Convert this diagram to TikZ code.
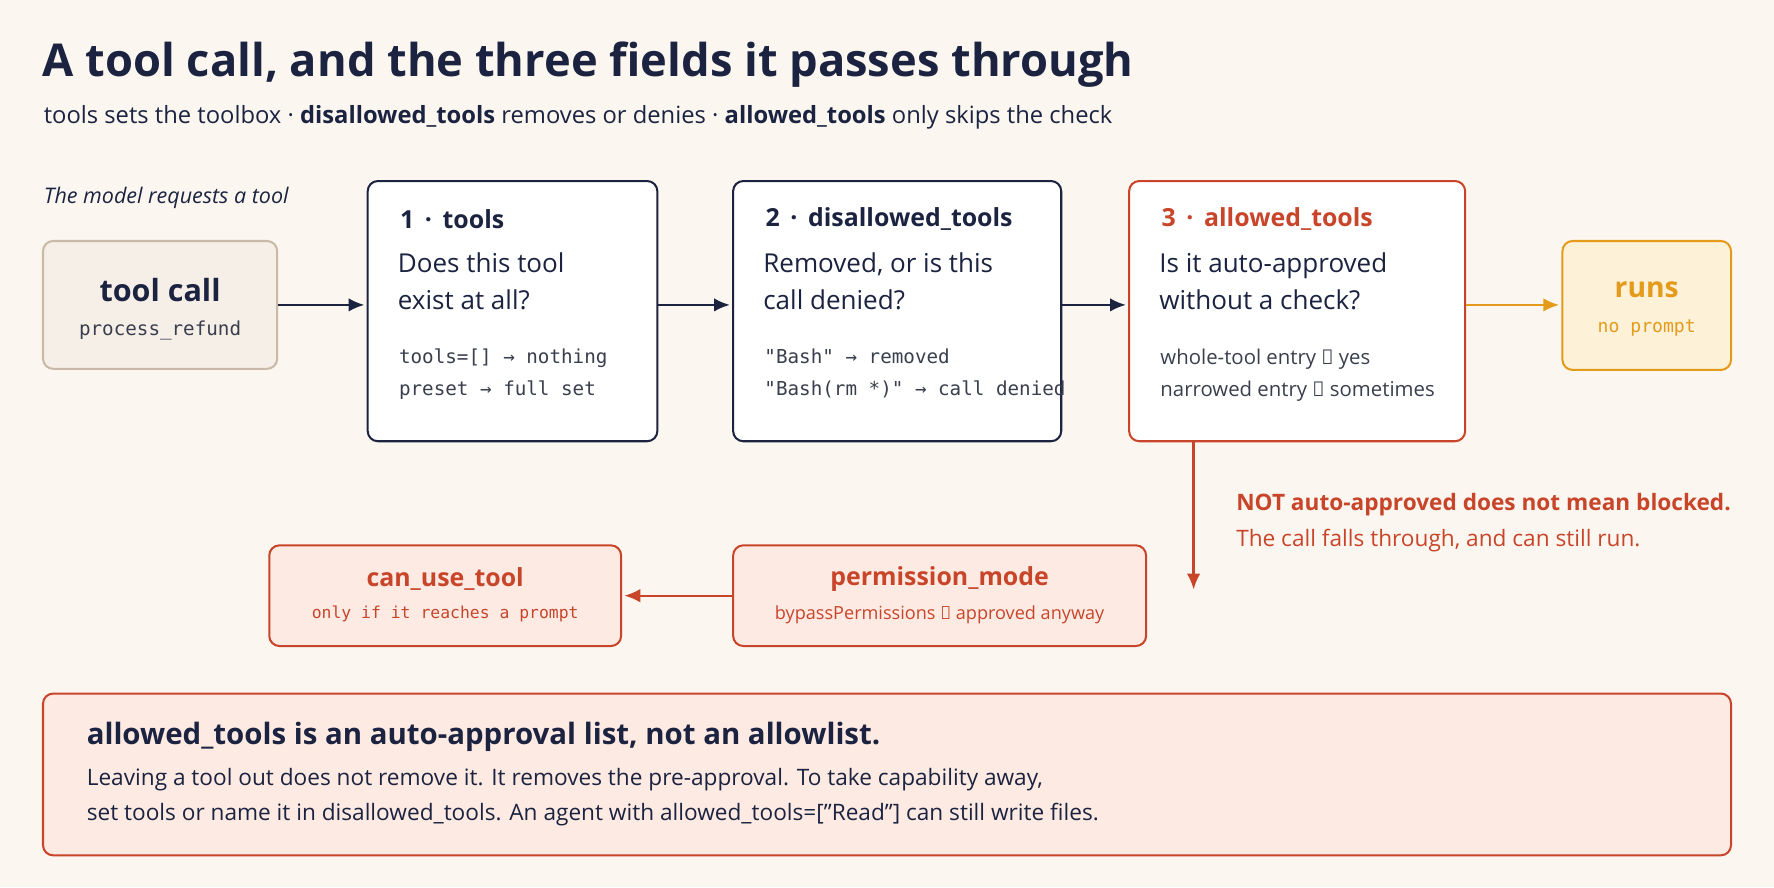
\documentclass[tikz,border=0pt]{standalone}
\usepackage{fontspec}
\setmainfont{Open Sans}
\setmonofont{DejaVu Sans Mono}
\usetikzlibrary{positioning,arrows.meta}
\definecolor{navy}{HTML}{1B2340}
\definecolor{bgpaper}{HTML}{FBF7F0}
\definecolor{redline}{HTML}{C8452A}
\definecolor{redfill}{HTML}{FDEAE3}
\definecolor{tanfill}{HTML}{F5EFE8}
\definecolor{tanline}{HTML}{C9B9A6}
\definecolor{gold}{HTML}{E49B1C}
\definecolor{goldfill}{HTML}{FDF1D8}
\definecolor{bodygray}{HTML}{3A3F4E}
\tikzset{every picture/.style={line width=0.75pt}}
\tikzset{
  box/.style={draw=navy,line width=1.8pt,rounded corners=9pt,fill=white,inner sep=0pt},
  redbox/.style={draw=redline,line width=1.8pt,rounded corners=9pt,fill=redfill,inner sep=0pt},
  flow/.style={-{Latex[length=14pt,width=12pt]},line width=2pt,draw=navy,shorten >=2pt},
  redflow/.style={-{Latex[length=14pt,width=12pt]},line width=2pt,draw=redline,shorten >=2pt},
}

\begin{document}
\begin{tikzpicture}[x=1pt,y=1pt,yscale=-1]
	\fill[bgpaper] (0,0) rectangle (1568,784);
	\useasboundingbox (0,0) rectangle (1568,784);

	% Title
	\node[anchor=west,font=\bfseries\fontsize{40}{44}\selectfont,text=navy] (title) at (34,57) {A tool call, and the three fields it passes through};
	\node[anchor=west,font=\fontsize{21}{24}\selectfont,text=navy] (subtitle) at (35,104) {tools sets the toolbox · \textbf{disallowed\_tools} removes or denies · \textbf{allowed\_tools} only skips the check};
	\node[anchor=west,font=\itshape\fontsize{19}{22}\selectfont,text=navy] (req) at (35,175) {The model requests a tool};

	% Boxes
	\node[box,draw=tanline,fill=tanfill,minimum width=207pt,minimum height=113pt] (call) at (141.5,269.5) {};
	\node[font=\bfseries\fontsize{27}{30}\selectfont,text=navy] at (141.5,256) {tool call};
	\node[font=\ttfamily\fontsize{17}{20}\selectfont,text=bodygray] at (141.5,292) {process\_refund};

	\node[box,minimum width=256pt,minimum height=230pt] (tools) at (453,275) {};
	\node[anchor=west,font=\bfseries\fontsize{22}{26}\selectfont,text=navy] at (350,194) {1 \,·\, tools};
	\node[anchor=north west,align=left,font=\fontsize{23}{32}\selectfont,text=navy] at (348,220) {Does this tool\\exist at all?};
	\node[anchor=north west,align=left,font=\ttfamily\fontsize{17}{28}\selectfont,text=bodygray] at (349,305) {tools=[] → nothing\\preset → full set};

	\node[box,minimum width=290pt,minimum height=230pt] (disallowed) at (793,275) {};
	\node[anchor=west,font=\bfseries\fontsize{22}{26}\selectfont,text=navy] at (673,194) {2 \,·\, disallowed\_tools};
	\node[anchor=north west,align=left,font=\fontsize{23}{32}\selectfont,text=navy] at (671,220) {Removed, or is this\\call denied?};
	\node[anchor=north west,align=left,font=\ttfamily\fontsize{17}{28}\selectfont,text=bodygray] at (672,305) {\char34 Bash\char34\ → removed\\\char34 Bash(rm *)\char34\ → call denied};

	\node[box,draw=redline,minimum width=297pt,minimum height=230pt] (allowed) at (1146.5,275) {};
	\node[anchor=west,font=\bfseries\fontsize{22}{26}\selectfont,text=redline] at (1023,194) {3 \,·\, allowed\_tools};
	\node[anchor=north west,align=left,font=\fontsize{23}{32}\selectfont,text=navy] at (1021,220) {Is it auto-approved\\without a check?};
	\node[anchor=north west,align=left,font=\fontsize{18}{28}\selectfont,text=bodygray] at (1022,305) {whole-tool entry → yes\\narrowed entry → sometimes};

	\node[box,draw=gold,fill=goldfill,minimum width=149pt,minimum height=114pt] (runs) at (1455.5,270) {};
	\node[font=\bfseries\fontsize{25}{28}\selectfont,text=gold] at (1455.5,256) {runs};
	\node[font=\ttfamily\fontsize{16}{18}\selectfont,text=gold] at (1455.5,290) {no prompt};

	% Arrows
	\draw[flow] (call.east) -- (call.east -| tools.west);
	\draw[flow] (tools.east |- call.east) -- (disallowed.west |- call.east);
	\draw[flow] (disallowed.east |- call.east) -- (allowed.west |- call.east);
	\draw[flow,draw=gold] (allowed.east |- call.east) -- (runs.west |- call.east);
	\coordinate (fall) at (1055,521);
	\draw[redflow,shorten >=0pt] (allowed.south -| fall) -- (fall);

	% Note
	\node[anchor=west,font=\bfseries\fontsize{20}{22}\selectfont,text=redline] at (1089,446) {NOT auto-approved does not mean blocked.};
	\node[anchor=west,font=\fontsize{20}{22}\selectfont,text=redline] at (1089,478) {The call falls through, and can still run.};

	% Lower row
	\node[redbox,minimum width=365pt,minimum height=89pt] (mode) at (830.5,526.5) {};
	\node[font=\bfseries\fontsize{22}{26}\selectfont,text=redline] at (830.5,512) {permission\_mode};
	\node[font=\fontsize{16}{18}\selectfont,text=redline] at (830.5,543) {bypassPermissions → approved anyway};

	\node[redbox,minimum width=311pt,minimum height=89pt] (canuse) at (393.5,526.5) {};
	\node[font=\bfseries\fontsize{22}{26}\selectfont,text=redline] at (393.5,512) {can\_use\_tool};
	\node[font=\ttfamily\fontsize{14.5}{18}\selectfont,text=redline] at (393.5,543) {only if it reaches a prompt};

	\draw[redflow] (mode.west) -- (canuse.east);

	% Bottom callout
	\node[redbox,minimum width=1492pt,minimum height=143pt] (note) at (784,684.5) {};
	\node[anchor=west,font=\bfseries\fontsize{26}{30}\selectfont,text=navy] at (73,651) {allowed\_tools is an auto-approval list, not an allowlist.};
	\node[anchor=north west,align=left,font=\fontsize{20}{31}\selectfont,text=navy] at (73,675) {Leaving a tool out does not remove it. It removes the pre-approval. To take capability away,\\set tools or name it in disallowed\_tools. An agent with allowed\_tools=[\char34 Read\char34] can still write files.};
\end{tikzpicture}
\end{document}
